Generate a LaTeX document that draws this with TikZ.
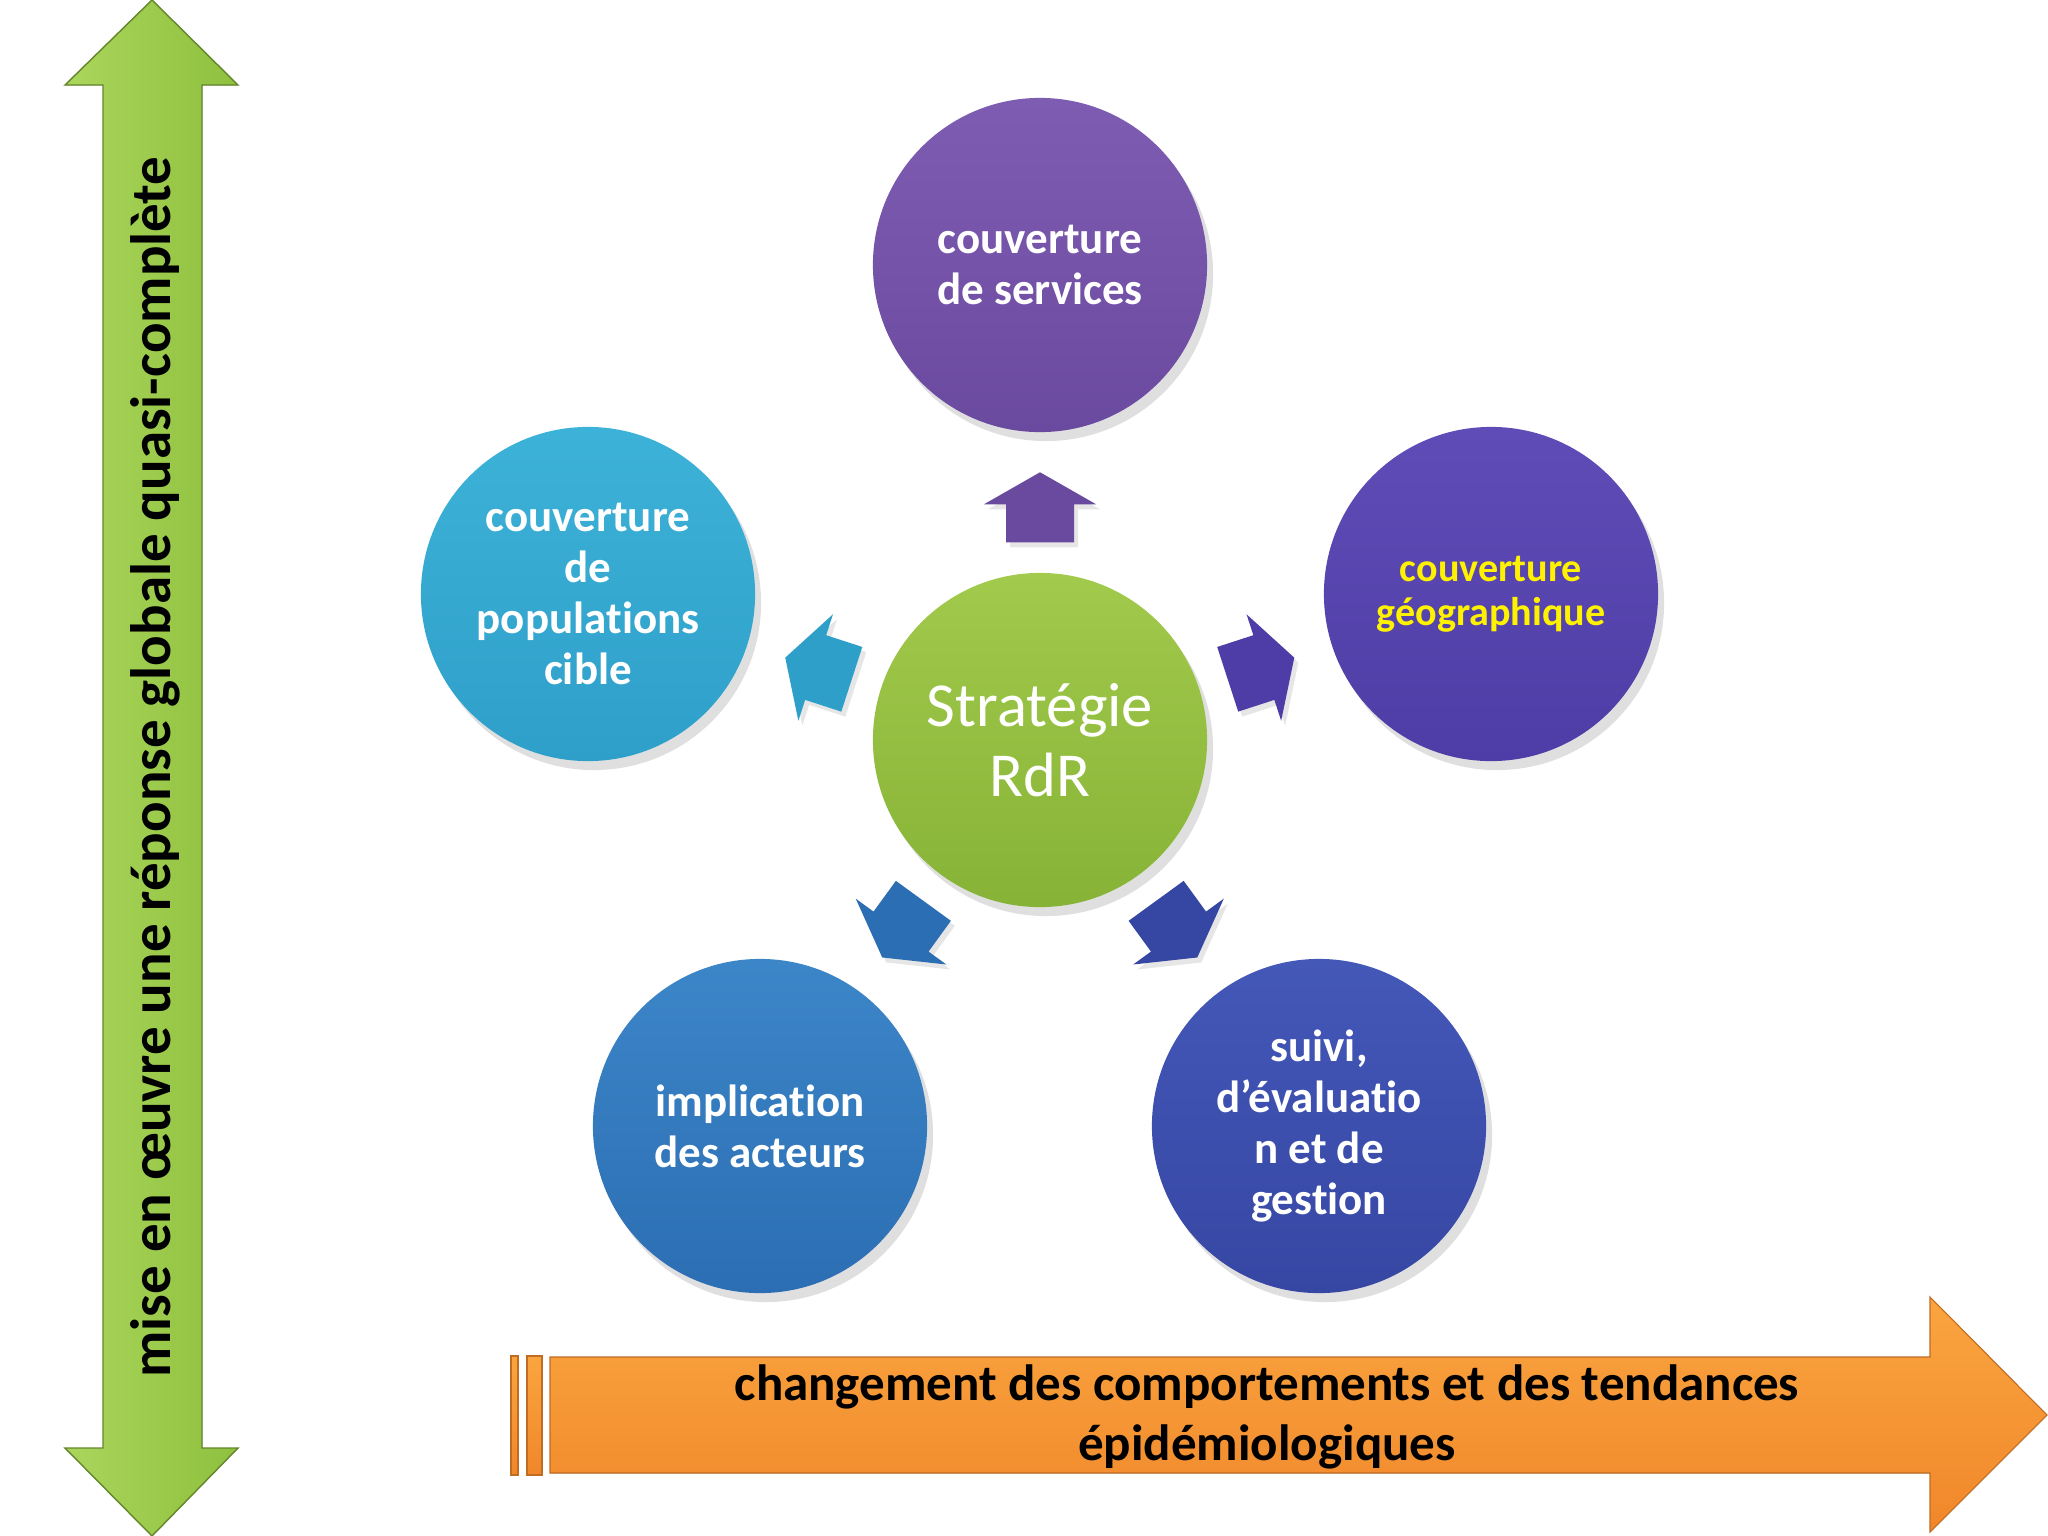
\documentclass[tikz,border=0pt]{standalone}
\usepackage{fontspec}
\setmainfont{Carlito}[Ligatures={NoCommon,NoRare}, Contextuals=NoAlternate]
\usepackage{tikz}
\usetikzlibrary{positioning}
\usetikzlibrary{calc}
\usetikzlibrary{shadows}

\definecolor{vertpomme}{HTML}{8FC03E}
\definecolor{vertclair}{HTML}{AAD65C}
\definecolor{orangehaut}{HTML}{FAA540}
\definecolor{orangebas}{HTML}{F0872A}
\definecolor{violet}{HTML}{6A4A9E}
\definecolor{violetclair}{HTML}{7E5CB2}
\definecolor{cyan}{HTML}{2E9FC9}
\definecolor{cyanclair}{HTML}{3DB2D8}
\definecolor{indigo}{HTML}{4E3DA6}
\definecolor{indigoclair}{HTML}{604CB6}
\definecolor{bleu}{HTML}{2C6EB3}
\definecolor{bleuclair}{HTML}{3C86C8}
\definecolor{bleunuit}{HTML}{3646A3}
\definecolor{bleunuitclair}{HTML}{4458B8}
\definecolor{centre}{HTML}{86B336}
\definecolor{centreclair}{HTML}{A2CA4C}

% small block arrow: position, angle, colour
\newcommand{\petitefleche}[3]{%
\begin{scope}[shift={#1}, rotate=#2]
\fill[#3, drop shadow={opacity=0.2, shadow xshift=0.04cm, shadow yshift=-0.05cm}]
  (-35,-34) -- (3,-34) -- (3,-56) -- (35,0) -- (3,56) -- (3,34) -- (-35,34) -- cycle;
\end{scope}}

\begin{document}
\begin{tikzpicture}[x=0.01cm, y=-0.01cm,
  bulle/.style={circle, minimum size=3.34cm, inner sep=0pt, align=center,
    text=white, font=\bfseries\fontsize{12.8}{14.5}\selectfont,
    drop shadow={opacity=0.25, shadow xshift=0.06cm, shadow yshift=-0.09cm}}]
\useasboundingbox (0,0) rectangle (2048,1536);

% vertical double arrow
\fill[left color=vertclair, right color=vertpomme, draw=vertpomme!70!black, line width=0.4pt]
  (152,0) -- (238,85) -- (202,85) -- (202,1448) -- (238,1448) -- (152,1536)
  -- (65,1448) -- (103,1448) -- (103,85) -- (65,85) -- cycle;
\node[rotate=90, font=\bfseries\fontsize{16.2}{20}\selectfont] (mise) at (155,767)
  {mise en œuvre une réponse globale quasi-complète};

% horizontal arrow
\fill[top color=orangehaut, bottom color=orangebas, draw=orangebas!80!black, line width=0.3pt]
  (511,1356) rectangle (518,1475);
\fill[top color=orangehaut, bottom color=orangebas, draw=orangebas!80!black, line width=0.3pt]
  (527,1356) rectangle (542,1475);
\fill[top color=orangehaut, bottom color=orangebas, draw=orangebas!80!black, line width=0.3pt]
  (550,1357) -- (1930,1357) -- (1930,1297) -- (2047,1415) -- (1930,1532)
  -- (1930,1473) -- (550,1473) -- cycle;
\node[align=center, font=\bfseries\fontsize{14.5}{17}\selectfont] (tendances) at (1267,1417)
  {changement des comportements et des tendances\\épidémiologiques};

% circles
\node[bulle, top color=centreclair, bottom color=centre, text=white,
  font=\fontsize{17.8}{19.8}\selectfont] (strategie) at (1040,740) {Stratégie\\RdR};
\node[bulle, top color=violetclair, bottom color=violet] (services) at (1040,265)
  {couverture\\de services};
\node[bulle, top color=cyanclair, bottom color=cyan] (populations) at (588,594)
  {couverture\\de\\populations\\cible};
\node[bulle, top color=indigoclair, bottom color=indigo, text=yellow,
  font=\bfseries\fontsize{11.4}{12.5}\selectfont] (geo) at (1491,594)
  {couverture\\géographique};
\node[bulle, top color=bleuclair, bottom color=bleu] (acteurs) at (760,1126)
  {implication\\des acteurs};
\node[bulle, top color=bleunuitclair, bottom color=bleunuit] (suivi) at (1319,1126)
  {suivi,\\d’évaluatio\\n et de\\gestion};

% arrows from the centre
\petitefleche{($(strategie)!0.49!(services)$)}{90}{violet}
\petitefleche{($(strategie)!0.49!(populations)$)}{162}{cyan}
\petitefleche{($(strategie)!0.49!(geo)$)}{18}{indigo}
\petitefleche{($(strategie)!0.49!(acteurs)$)}{234}{bleu}
\petitefleche{($(strategie)!0.49!(suivi)$)}{306}{bleunuit}
\end{tikzpicture}
\end{document}
